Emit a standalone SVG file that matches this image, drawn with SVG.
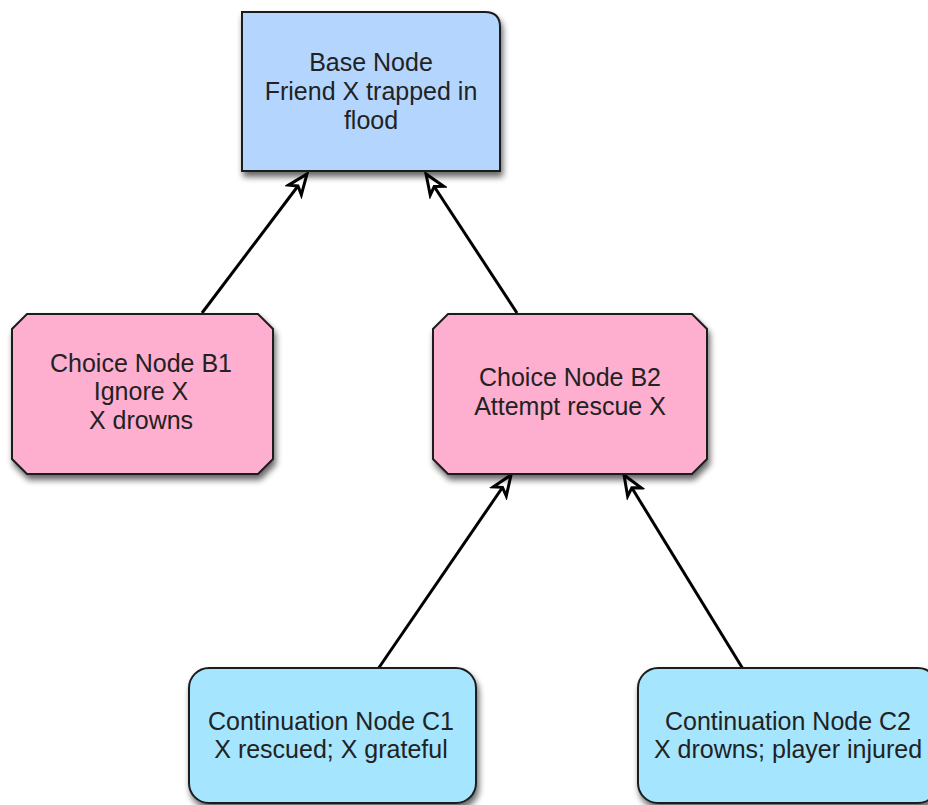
<svg xmlns="http://www.w3.org/2000/svg" width="928" height="805" viewBox="0 0 928 805">
  <defs>
    <filter id="shadow" x="-10%" y="-10%" width="130%" height="140%">
      <feGaussianBlur in="SourceAlpha" stdDeviation="3"/>
      <feOffset dx="2" dy="5" result="b"/>
      <feComponentTransfer><feFuncA type="linear" slope="0.6"/></feComponentTransfer>
      <feMerge><feMergeNode/><feMergeNode in="SourceGraphic"/></feMerge>
    </filter>
    <marker id="hollow" viewBox="0 0 26 22" refX="23" refY="11" markerWidth="26" markerHeight="22" markerUnits="userSpaceOnUse" orient="auto">
      <path d="M3,3 L23,11 L3,19 L8,11 Z" fill="#fff" stroke="#000" stroke-width="3" stroke-linejoin="miter"/>
    </marker>
  </defs>
  <style>
    .node { stroke: #1e1e1e; stroke-width: 2; filter: url(#shadow); }
    .base { fill: #b4d6fe; }
    .choice { fill: #feaecf; }
    .cont { fill: #a5e5fe; }
    .label { font-family: "Liberation Sans", Arial, sans-serif; font-size: 25px; fill: #222; text-anchor: middle; }
    .edge { stroke: #000; stroke-width: 3; fill: none; marker-end: url(#hollow); }
  </style>
  <rect width="928" height="805" fill="#fff"/>

  <g id="connectors">
    <line class="edge" x1="202" y1="313" x2="307" y2="174"/>
    <line class="edge" x1="517" y1="313" x2="426" y2="174"/>
    <line class="edge" x1="378" y1="669" x2="511" y2="475"/>
    <line class="edge" x1="743" y1="669" x2="624" y2="475"/>
  </g>

  <g id="base-node">
    <path class="node base" d="M242,12 H485 Q500,12 500,27 V171 H242 Z"/>
    <text class="label" x="371" y="71">Base Node</text>
    <text class="label" x="371" y="100">Friend X trapped in</text>
    <text class="label" x="371" y="129">flood</text>
  </g>

  <g id="choice-b1">
    <path class="node choice" d="M27,314 H258 L273,329 V459 L258,474 H27 L12,459 V329 Z"/>
    <text class="label" x="141" y="372">Choice Node B1</text>
    <text class="label" x="141" y="400">Ignore X</text>
    <text class="label" x="141" y="429">X drowns</text>
  </g>

  <g id="choice-b2">
    <path class="node choice" d="M448,314 H692 L707,329 V459 L692,474 H448 L433,459 V329 Z"/>
    <text class="label" x="570" y="386">Choice Node B2</text>
    <text class="label" x="570" y="415">Attempt rescue X</text>
  </g>

  <g id="continuation-c1">
    <rect class="node cont" x="189" y="668" width="287" height="135" rx="20" ry="20"/>
    <text class="label" x="331" y="730">Continuation Node C1</text>
    <text class="label" x="331" y="758">X rescued; X grateful</text>
  </g>

  <g id="continuation-c2">
    <rect class="node cont" x="638" y="668" width="300" height="135" rx="20" ry="20"/>
    <text class="label" x="788" y="730">Continuation Node C2</text>
    <text class="label" x="788" y="758">X drowns; player injured</text>
  </g>
</svg>
